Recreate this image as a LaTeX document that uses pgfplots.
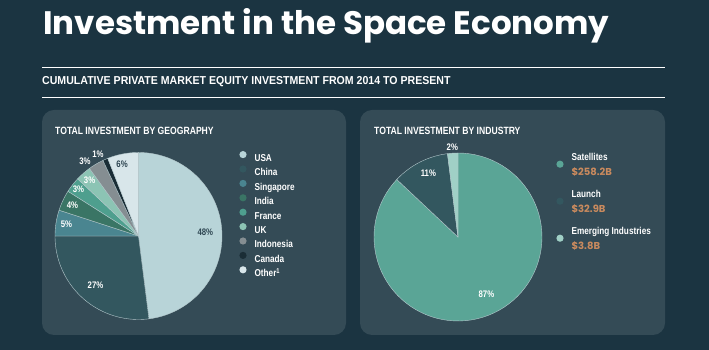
\documentclass[border=0pt]{standalone}
\usepackage{pgfplots}
\pgfplotsset{compat=1.18}
\usepackage{fontspec}
\setmainfont{Liberation Sans}
\newfontfamily\titlefont{Poppins}
\newfontfamily\condfont{Liberation Sans}[FakeStretch=0.82]
\newfontfamily\subfont{Liberation Sans}[FakeStretch=0.92]
\newfontfamily\valfont{Poppins}
\definecolor{bg}{HTML}{1B3441}
\definecolor{panel}{HTML}{344B56}
\definecolor{cUSA}{HTML}{B8D4D8}
\definecolor{cChina}{HTML}{33575F}
\definecolor{cSing}{HTML}{4A8590}
\definecolor{cIndia}{HTML}{3A7565}
\definecolor{cFrance}{HTML}{4E9F8E}
\definecolor{cUK}{HTML}{8CC4B4}
\definecolor{cIndo}{HTML}{858E92}
\definecolor{cCanada}{HTML}{1A2D36}
\definecolor{cOther}{HTML}{D8E6EA}
\definecolor{cSat}{HTML}{5AA596}
\definecolor{cLaunch}{HTML}{33575F}
\definecolor{cEmerg}{HTML}{A0D0C6}
\definecolor{valc}{HTML}{C98A5E}
\definecolor{labdark}{HTML}{2E4652}
\definecolor{edge}{HTML}{B4C8CC}
\protected\def\labfont{\condfont\bfseries\fontsize{9.5}{11}\selectfont}
\protected\def\othern{Other\textsuperscript{1}}
\protected\def\satn{\begin{tabular}[t]{@{}l@{}}Satellites\\{\valfont\bfseries\color{valc}\fontsize{10}{12}\selectfont\$258.2B}\end{tabular}}
\protected\def\laun{\begin{tabular}[t]{@{}l@{}}Launch\\{\valfont\bfseries\color{valc}\fontsize{10}{12}\selectfont\$32.9B}\end{tabular}}
\protected\def\emen{\begin{tabular}[t]{@{}l@{}}Emerging Industries\\{\valfont\bfseries\color{valc}\fontsize{10}{12}\selectfont\$3.8B}\end{tabular}}
\begin{document}
\begin{tikzpicture}[x=1pt,y=1pt]
\fill[bg] (0,0) rectangle (709,350);
\fill[panel, rounded corners=12pt] (42,15) rectangle (346,240);
\fill[panel, rounded corners=12pt] (360,15) rectangle (665,240);
\draw[white, line width=0.8pt] (42,283) -- (665,283);
\draw[white, line width=0.8pt] (42,253) -- (665,253);
\node[anchor=base west, inner sep=0pt, text=white, font=\titlefont\bfseries\fontsize{32.5}{36}\selectfont] at (43,315) {Investment in the Space Economy};
\node[anchor=base west, inner sep=0pt, text=white, font=\subfont\bfseries\fontsize{11.5}{13}\selectfont] at (42,265) {CUMULATIVE PRIVATE MARKET EQUITY INVESTMENT FROM 2014 TO PRESENT};
\node[anchor=base west, inner sep=0pt, text=white, font=\condfont\bfseries\fontsize{10.5}{13}\selectfont] at (55,215) {TOTAL INVESTMENT BY GEOGRAPHY};
\node[anchor=base west, inner sep=0pt, text=white, font=\condfont\bfseries\fontsize{10.5}{13}\selectfont] at (374,215) {TOTAL INVESTMENT BY INDUSTRY};

\begin{axis}[at={(138.5,114)}, anchor=center, x=1pt, y=1pt,
  xmin=-100, xmax=100, ymin=-100, ymax=100, hide axis, clip=false,
  legend cell align=left,
  legend image code/.code={\fill[#1, draw=none] (0pt,3.4pt) circle (3.6pt);},
  legend style={at={(1.0045,0.925)}, anchor=north west, draw=none, fill=none,
    inner sep=0pt, outer sep=0pt, row sep=3.8pt, column sep=8pt,
    font=\condfont\bfseries\fontsize{10}{12}\selectfont, text=white,
    nodes={inner sep=0pt, text height=7.2pt, text depth=0pt}}]
\xdef\cum{0}
\foreach \p/\c/\r/\da/\lc/\name in {48/cUSA/67/0/labdark/USA, 27/cChina/65/0/white/China,
  5/cSing/73/0/white/Singapore, 4/cIndia/73/0/white/India, 3/cFrance/76/0/white/France,
  3/cUK/74/0/white/UK, 3/cIndo/92/5/white/Indonesia, 1/cCanada/91/3/white/Canada,
  6/cOther/74/2/labdark/\othern}{
  \pgfmathsetmacro\a{90-3.6*\cum}
  \pgfmathsetmacro\b{90-3.6*(\cum+\p)}
  \pgfmathsetmacro\m{(\a+\b)/2+\da}
  \pgfmathsetmacro\lx{\r*cos(\m)}
  \pgfmathsetmacro\ly{\r*sin(\m)}
  \edef\temp{\noexpand\addplot[fill=\c, draw=edge, line width=0.4pt, domain=\b:\a, samples=60] ({83.5*cos(x)},{83.5*sin(x)}) -- (axis cs:0,0) -- cycle;
    \noexpand\addlegendentry{\name}
    \noexpand\node[text=\lc, font=\noexpand\labfont, inner sep=0pt] at (axis cs:\lx,\ly) {\p\noexpand\%};}
  \temp
  \pgfmathsetmacro\n{\cum+\p}
  \xdef\cum{\n}
}
\end{axis}

\begin{axis}[at={(458,113)}, anchor=center, x=1pt, y=1pt,
  xmin=-100, xmax=100, ymin=-100, ymax=100, hide axis, clip=false,
  legend cell align=left,
  legend image code/.code={\fill[#1, draw=none] (0pt,3.4pt) circle (3.6pt);},
  legend style={at={(0.992,0.92)}, anchor=north west, draw=none, fill=none,
    inner sep=0pt, outer sep=0pt, row sep=7.8pt, column sep=8pt,
    font=\condfont\bfseries\fontsize{10}{15}\selectfont, text=white,
    nodes={inner sep=0pt, text height=7.2pt, text depth=22pt}}]
\xdef\cum{0}
\foreach \p/\c/\r/\da/\lc/\name in {87/cSat/64/3/white/\satn, 11/cLaunch/70/-2/white/\laun,
  2/cEmerg/90/0/white/\emen}{
  \pgfmathsetmacro\a{90-3.6*\cum}
  \pgfmathsetmacro\b{90-3.6*(\cum+\p)}
  \pgfmathsetmacro\m{(\a+\b)/2+\da}
  \pgfmathsetmacro\lx{\r*cos(\m)}
  \pgfmathsetmacro\ly{\r*sin(\m)}
  \edef\temp{\noexpand\addplot[fill=\c, draw=edge, line width=0.4pt, domain=\b:\a, samples=80] ({84*cos(x)},{84*sin(x)}) -- (axis cs:0,0) -- cycle;
    \noexpand\addlegendentry{\name}
    \noexpand\node[text=\lc, font=\noexpand\labfont, inner sep=0pt] at (axis cs:\lx,\ly) {\p\noexpand\%};}
  \temp
  \pgfmathsetmacro\n{\cum+\p}
  \xdef\cum{\n}
}
\end{axis}
\end{tikzpicture}
\end{document}
